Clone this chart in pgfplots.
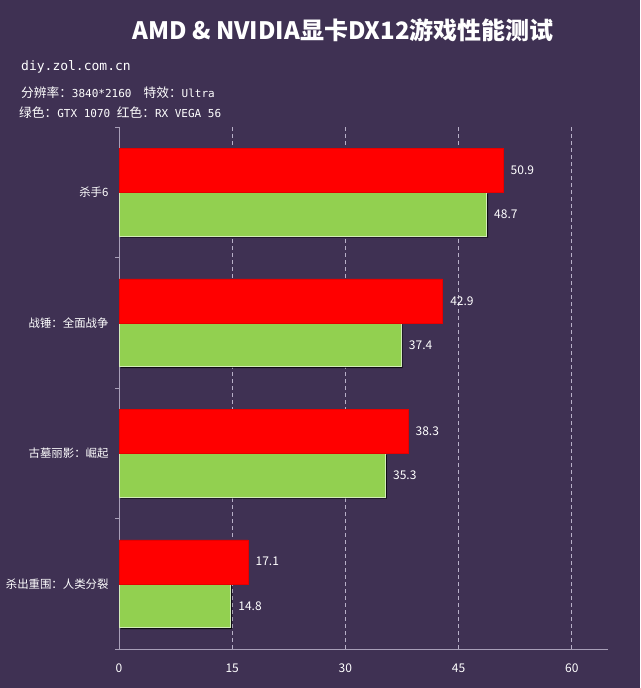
\documentclass[border=0pt]{standalone}
\usepackage{pgfplots}
\pgfplotsset{compat=1.18}
\usepackage{fontspec}
\setmainfont{Noto Sans CJK SC}
\newfontfamily\mono{DejaVu Sans Mono}
\definecolor{bg}{HTML}{3F3153}
\definecolor{amdred}{HTML}{FF0000}
\definecolor{nvgreen}{HTML}{92D050}
\definecolor{axisc}{HTML}{A89FB8}
\definecolor{gridc}{HTML}{B8B0C8}

\pgfplotstableread{
pos red green
0 17.1 14.8
1 38.3 35.3
2 42.9 37.4
3 50.9 48.7
}\fps

\newcommand{\lat}[1]{{\mono\fontsize{11}{13}\selectfont #1}}

\begin{document}
\begin{tikzpicture}
\useasboundingbox (0pt,0pt) rectangle (640pt,-688pt);
\fill[bg] (0pt,0pt) rectangle (640pt,-688pt);
\node[white, inner sep=0, font=\bfseries\fontsize{24}{28}\selectfont] at (343pt,-30.6pt) {AMD \& NVIDIA显卡DX12游戏性能测试};
\node[white, anchor=west, inner sep=0, font=\mono\fontsize{13}{15}\selectfont] at (21pt,-66.5pt) {diy.zol.com.cn};
\node[white, anchor=west, inner sep=0, font=\fontsize{12.7}{14}\selectfont] at (21pt,-93pt) {分辨率：\lat{3840*2160}\hspace{12pt}特效：\lat{Ultra}};
\node[white, anchor=west, inner sep=0, font=\fontsize{12.7}{14}\selectfont] at (19pt,-113pt) {绿色：\lat{GTX 1070 }红色：\lat{RX VEGA 56}};
\begin{axis}[
    at={(119pt,-649pt)}, anchor=south west,
    scale only axis, width=489pt, height=522pt,
    xbar, bar width=0.337,
    xmin=0, xmax=64.8, ymin=-0.5, ymax=3.5,
    enlargelimits=false, clip=false,
    xtick={0,15,30,45,60},
    ytick={0,1,2,3},
    yticklabels={杀出重围：人类分裂, 古墓丽影：崛起, 战锤：全面战争, 杀手6},
    minor ytick={-0.5,0.5,1.5,2.5,3.5},
    axis x line=bottom, axis y line=left,
    axis line style={-, draw=axisc, line width=0.8pt},
    major tick length=0pt, minor tick length=4pt, tick align=outside,
    minor tick style={draw=axisc, line width=0.8pt},
    xmajorgrids, major x grid style={draw=gridc, dash pattern=on 4pt off 3pt, line width=0.6pt},
    tick label style={white, font=\fontsize{12}{14}\selectfont},
    yticklabel style={xshift=-7pt, font=\fontsize{11.4}{14}\selectfont},
    xticklabel style={yshift=-11pt},
    /pgf/number format/assume math mode=true,
]
% shadow of the green bars
\addplot[fill=black, draw=none, opacity=0.75, bar shift=-0.1685, xshift=1.5pt, yshift=-1.5pt]
    table[x=green, y=pos] {\fps};
\addplot[fill=nvgreen, draw=nvgreen!40!white, line width=0.8pt, bar shift=-0.1685,
    nodes near coords, nodes near coords style={white, font=\fontsize{12}{14}\selectfont, xshift=4pt,
    /pgf/number format/fixed, /pgf/number format/precision=1}]
    table[x=green, y=pos] {\fps};
\addplot[fill=amdred, draw=amdred!90!black, line width=0.5pt, bar shift=0.1685,
    nodes near coords, nodes near coords style={white, font=\fontsize{12}{14}\selectfont, xshift=4pt,
    /pgf/number format/fixed, /pgf/number format/precision=1}]
    table[x=red, y=pos] {\fps};
\end{axis}
\end{tikzpicture}
\end{document}
